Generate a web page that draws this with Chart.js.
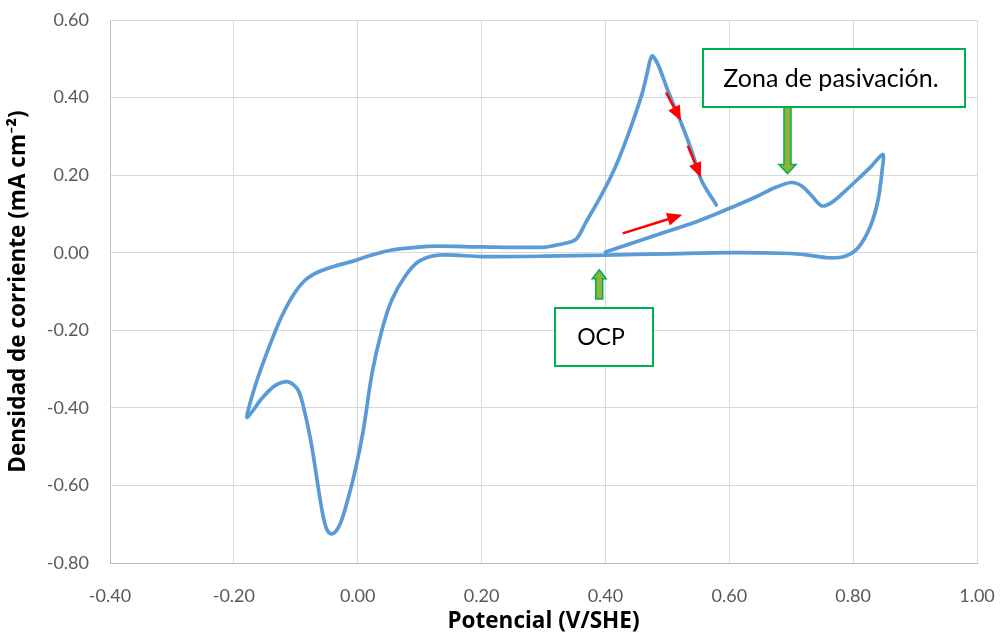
<!DOCTYPE html>
<html><head><meta charset="utf-8">
<script src="https://cdn.jsdelivr.net/npm/chart.js@4.4.0/dist/chart.umd.min.js"></script>
<style>html,body{margin:0;padding:0;background:#fff}#wrap{width:1003px;height:636px;position:relative}</style>
</head><body><div id="wrap"><canvas id="c" width="1003" height="636"></canvas></div>
<script>
const potential = [0.400,0.485,0.549,0.613,0.647,0.674,0.700,0.717,0.733,0.749,0.765,0.787,0.808,0.830,0.848,
 0.847,0.840,0.827,0.808,0.787,0.760,0.727,0.700,0.600,0.500,0.400,0.300,0.200,0.130,0.098,0.076,0.055,0.039,0.023,0.009,-0.004,-0.018,-0.027,-0.035,-0.043,-0.050,-0.056,-0.063,-0.074,-0.085,-0.096,-0.112,-0.133,-0.155,-0.171,-0.179,
 -0.171,-0.157,-0.139,-0.123,-0.104,-0.085,-0.063,-0.036,-0.010,0.023,0.055,0.093,0.130,0.200,0.300,0.325,0.352,0.368,0.395,0.416,0.437,0.459,0.467,0.475,0.485,0.501,0.523,0.539,0.555,0.579];
const current = [0.002,0.047,0.081,0.123,0.147,0.168,0.181,0.172,0.147,0.121,0.129,0.159,0.190,0.224,0.254,
 0.215,0.134,0.065,0.013,-0.009,-0.013,-0.006,-0.002,0.000,-0.003,-0.006,-0.009,-0.010,-0.006,-0.023,-0.062,-0.122,-0.200,-0.312,-0.458,-0.561,-0.648,-0.694,-0.718,-0.725,-0.713,-0.678,-0.613,-0.501,-0.415,-0.355,-0.333,-0.342,-0.376,-0.411,-0.424,
 -0.372,-0.303,-0.226,-0.165,-0.109,-0.071,-0.049,-0.034,-0.023,-0.006,0.007,0.014,0.017,0.015,0.014,0.021,0.034,0.077,0.153,0.221,0.306,0.409,0.460,0.507,0.485,0.417,0.332,0.264,0.187,0.123];
const xTicks = [-0.40,-0.20,0.00,0.20,0.40,0.60,0.80,1.00];
const yTicks = [-0.80,-0.60,-0.40,-0.20,0.00,0.20,0.40,0.60];
const xTitle = 'Potencial (V/SHE)';
const yTitle = 'Densidad de corriente (mA cm⁻²)';
const labelPasiv = 'Zona de pasivación.';
const labelOCP = 'OCP';

const pts = potential.map((x,i)=>({x:x,y:current[i]}));
const FONT = 'Lato, "Open Sans", sans-serif';
const TFONT = '"Open Sans", Lato, sans-serif';

function arrowRed(ctx,x1,y1,x2,y2){
  const a=Math.atan2(y2-y1,x2-x1), L=15, W=6.5;
  const bx=x2-L*Math.cos(a), by=y2-L*Math.sin(a);
  ctx.save();ctx.strokeStyle='#ff0000';ctx.fillStyle='#ff0000';ctx.lineWidth=2.5;
  ctx.beginPath();ctx.moveTo(x1,y1);ctx.lineTo(bx,by);ctx.stroke();
  ctx.beginPath();ctx.moveTo(x2,y2);
  ctx.lineTo(bx+W*Math.sin(a),by-W*Math.cos(a));
  ctx.lineTo(bx-W*Math.sin(a),by+W*Math.cos(a));ctx.closePath();ctx.fill();
  ctx.restore();
}
function blockArrow(ctx,x,y1,y2,hw){
  const dir = y2>y1?1:-1, sw=3.5, hl=9;
  const hb=y2-dir*hl;
  ctx.save();
  ctx.beginPath();
  ctx.moveTo(x-sw,y1);ctx.lineTo(x-sw,hb);ctx.lineTo(x-hw,hb);ctx.lineTo(x,y2);
  ctx.lineTo(x+hw,hb);ctx.lineTo(x+sw,hb);ctx.lineTo(x+sw,y1);ctx.closePath();
  ctx.fillStyle='#8db33a';ctx.fill();
  ctx.strokeStyle='#00b050';ctx.lineWidth=1.5;ctx.stroke();
  ctx.restore();
}
function textBox(ctx,x,y,w,h,text,size){
  ctx.save();
  ctx.fillStyle='#fff';ctx.fillRect(x,y,w,h);
  ctx.strokeStyle='#00b050';ctx.lineWidth=2;ctx.strokeRect(x,y,w,h);
  ctx.fillStyle='#000';ctx.font=size+'px '+FONT;ctx.textAlign='center';ctx.textBaseline='middle';
  ctx.fillText(text,x+w/2-3,y+h/2+1);
  ctx.restore();
}
const annot = {
  id:'annot',
  afterDatasetsDraw(chart){
    const ctx=chart.ctx, xs=chart.scales.x, ys=chart.scales.y;
    const P=(x,y)=>[xs.getPixelForValue(x),ys.getPixelForValue(y)];
    let a=P(0.498,0.413), b=P(0.522,0.340); arrowRed(ctx,a[0],a[1],b[0],b[1]);
    a=P(0.533,0.276); b=P(0.554,0.194); arrowRed(ctx,a[0],a[1],b[0],b[1]);
    a=P(0.428,0.050); b=P(0.524,0.098); arrowRed(ctx,a[0],a[1],b[0],b[1]);
    let t=P(0.694,0.204); blockArrow(ctx,t[0],107,t[1],8.5);
    t=P(0.390,-0.044); blockArrow(ctx,t[0],299,t[1],7);
    textBox(ctx,703,49,262,58,labelPasiv,25);
    textBox(ctx,555,308,98,58,labelOCP,23);
  }
};

new Chart(document.getElementById('c'),{
  type:'scatter',
  data:{datasets:[{data:pts,showLine:true,borderColor:'#5b9bd5',borderWidth:3.7,pointRadius:0,tension:0.3,fill:false,borderJoinStyle:'round',borderCapStyle:'round'}]},
  options:{
    responsive:false,animation:false,
    layout:{padding:{left:0,right:26,top:20,bottom:0}},
    plugins:{legend:{display:false},tooltip:{enabled:false}},
    scales:{
      x:{type:'linear',min:-0.4,max:1.0,
        afterBuildTicks(s){s.ticks=xTicks.map(v=>({value:v}));},
        afterFit(s){s.height=73;s.paddingLeft=0;s.paddingRight=0;},
        grid:{color:'#d9d9d9',lineWidth:1,drawTicks:false},
        border:{color:'#bfbfbf'},
        ticks:{color:'#595959',font:{family:FONT,size:18},padding:22,callback:v=>v.toFixed(2),maxRotation:0},
        title:{display:true,text:xTitle,color:'#000',font:{family:TFONT,size:22.5,weight:'bold'},padding:{top:0,bottom:1}}
      },
      y:{type:'linear',min:-0.8,max:0.6,
        afterBuildTicks(s){s.ticks=yTicks.map(v=>({value:v}));},
        afterFit(s){s.width=110;s.paddingTop=0;s.paddingBottom=0;},
        grid:{color:'#d9d9d9',lineWidth:1,drawTicks:false},
        border:{color:'#bfbfbf'},
        ticks:{color:'#595959',font:{family:FONT,size:18},padding:21,callback:v=>v.toFixed(2)},
        title:{display:true,text:yTitle,color:'#000',font:{family:TFONT,size:22.5,weight:'bold'},padding:{top:5,bottom:0}}
      }
    }
  },
  plugins:[annot]
});
</script></body></html>
